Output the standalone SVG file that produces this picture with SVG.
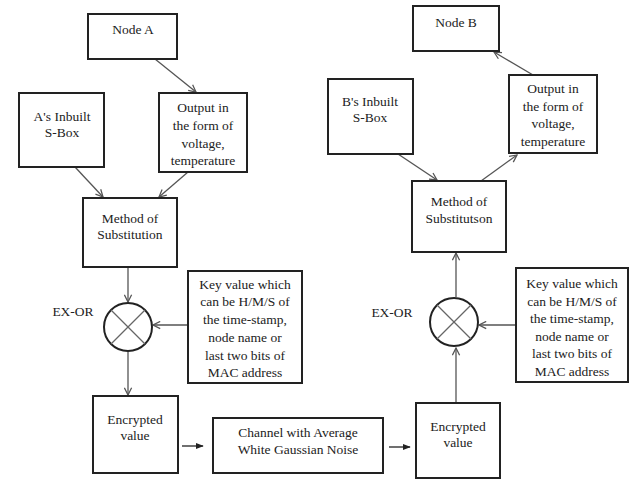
<svg xmlns="http://www.w3.org/2000/svg" width="630" height="479" viewBox="0 0 630 479">
<defs>
<style>
.box{fill:#fff;stroke:#222;stroke-width:2}
.t{fill:#222;text-anchor:middle}
.c{stroke:#555;stroke-width:1.3;fill:none}
.xr{fill:#fff;stroke:#222;stroke-width:2}
.xl{stroke:#666;stroke-width:1.3}
</style>
<marker id="open" viewBox="0 0 10 10" refX="9" refY="5" markerWidth="9" markerHeight="9" markerUnits="userSpaceOnUse" orient="auto">
<path d="M1,1 L9,5 L1,9" fill="none" stroke="#555" stroke-width="1.4"/>
</marker>
<marker id="fill" viewBox="0 0 10 10" refX="9" refY="5" markerWidth="8" markerHeight="8" markerUnits="userSpaceOnUse" orient="auto">
<path d="M0,1 L10,5 L0,9 Z" fill="#222"/>
</marker>
</defs>
<rect width="630" height="479" fill="#fff"/>

<g id="connectors">
<line class="c" x1="155" y1="59" x2="196" y2="92" marker-end="url(#open)"/>
<line class="c" x1="75" y1="167" x2="103" y2="197" marker-end="url(#open)"/>
<line class="c" x1="188" y1="172" x2="159" y2="197" marker-end="url(#open)"/>
<line class="c" x1="128" y1="267" x2="128" y2="302" marker-end="url(#open)"/>
<line class="c" x1="187" y1="325" x2="153" y2="325" marker-end="url(#open)"/>
<line class="c" x1="128" y1="352" x2="128" y2="395" marker-end="url(#open)"/>
<line x1="182" y1="446" x2="203" y2="446" stroke="#222" stroke-width="1.3" marker-end="url(#fill)"/>
<line x1="389" y1="447" x2="410" y2="447" stroke="#222" stroke-width="1.3" marker-end="url(#fill)"/>
<line class="c" x1="456" y1="403" x2="456" y2="348" marker-end="url(#open)"/>
<line class="c" x1="516" y1="325" x2="479" y2="325" marker-end="url(#open)"/>
<line class="c" x1="456" y1="297" x2="456" y2="253" marker-end="url(#open)"/>
<line class="c" x1="398" y1="154" x2="437" y2="180" marker-end="url(#open)"/>
<line class="c" x1="481" y1="181" x2="517" y2="155" marker-end="url(#open)"/>
<line class="c" x1="533" y1="75" x2="494" y2="52" marker-end="url(#open)"/>
</g>

<g font-family="'Liberation Serif', 'Times New Roman', serif" font-size="13.5">
<g id="nodeA">
<rect class="box" x="88" y="14" width="89" height="45"/>
<text class="t" x="133" y="34">Node A</text>
</g>
<g id="sboxA">
<rect class="box" x="19" y="93" width="85" height="74"/>
<text class="t" x="62" y="121">A's Inbuilt</text>
<text class="t" x="62" y="137">S-Box</text>
</g>
<g id="outputA">
<rect class="box" x="159" y="93" width="88" height="79"/>
<text class="t" x="203" y="112">Output in</text>
<text class="t" x="203" y="130">the form of</text>
<text class="t" x="203" y="148">voltage,</text>
<text class="t" x="203" y="165">temperature</text>
</g>
<g id="methodA">
<rect class="box" x="83" y="198" width="94" height="69"/>
<text class="t" x="130" y="223">Method of</text>
<text class="t" x="130" y="239">Substitution</text>
</g>
<g id="xorA">
<circle class="xr" cx="128" cy="327" r="24"/>
<line class="xl" x1="111" y1="310" x2="145" y2="344"/>
<line class="xl" x1="145" y1="310" x2="111" y2="344"/>
<text class="t" x="73" y="316">EX-OR</text>
</g>
<g id="keyA">
<rect class="box" x="188" y="271" width="114" height="112"/>
<text class="t" x="245" y="289">Key value which</text>
<text class="t" x="245" y="306">can be H/M/S of</text>
<text class="t" x="245" y="324">the time-stamp,</text>
<text class="t" x="245" y="342">node name or</text>
<text class="t" x="245" y="360">last two bits of</text>
<text class="t" x="245" y="377">MAC address</text>
</g>
<g id="encA">
<rect class="box" x="93" y="396" width="85" height="77"/>
<text class="t" x="135" y="424">Encrypted</text>
<text class="t" x="135" y="440">value</text>
</g>
<g id="channel">
<rect class="box" x="213" y="418" width="170" height="55"/>
<text class="t" x="298" y="437">Channel with Average</text>
<text class="t" x="298" y="454">White Gaussian Noise</text>
</g>
<g id="encB">
<rect class="box" x="416" y="403" width="84" height="75"/>
<text class="t" x="458" y="431">Encrypted</text>
<text class="t" x="458" y="447">value</text>
</g>
<g id="xorB">
<circle class="xr" cx="454" cy="322" r="24"/>
<line class="xl" x1="437" y1="305" x2="471" y2="339"/>
<line class="xl" x1="471" y1="305" x2="437" y2="339"/>
<text class="t" x="392" y="317">EX-OR</text>
</g>
<g id="keyB">
<rect class="box" x="516" y="268" width="112" height="114"/>
<text class="t" x="572" y="288">Key value which</text>
<text class="t" x="572" y="306">can be H/M/S of</text>
<text class="t" x="572" y="323">the time-stamp,</text>
<text class="t" x="572" y="341">node name or</text>
<text class="t" x="572" y="358">last two bits of</text>
<text class="t" x="572" y="376">MAC address</text>
</g>
<g id="methodB">
<rect class="box" x="412" y="181" width="94" height="71"/>
<text class="t" x="459" y="206">Method of</text>
<text class="t" x="459" y="223">Substitutson</text>
</g>
<g id="sboxB">
<rect class="box" x="328" y="79" width="85" height="75"/>
<text class="t" x="370" y="106">B's Inbuilt</text>
<text class="t" x="370" y="122">S-Box</text>
</g>
<g id="outputB">
<rect class="box" x="509" y="75" width="88" height="78"/>
<text class="t" x="553" y="93">Output in</text>
<text class="t" x="553" y="111">the form of</text>
<text class="t" x="553" y="128">voltage,</text>
<text class="t" x="553" y="146">temperature</text>
</g>
<g id="nodeB">
<rect class="box" x="413" y="6" width="86" height="45"/>
<text class="t" x="456" y="27">Node B</text>
</g>
</g>
</svg>
